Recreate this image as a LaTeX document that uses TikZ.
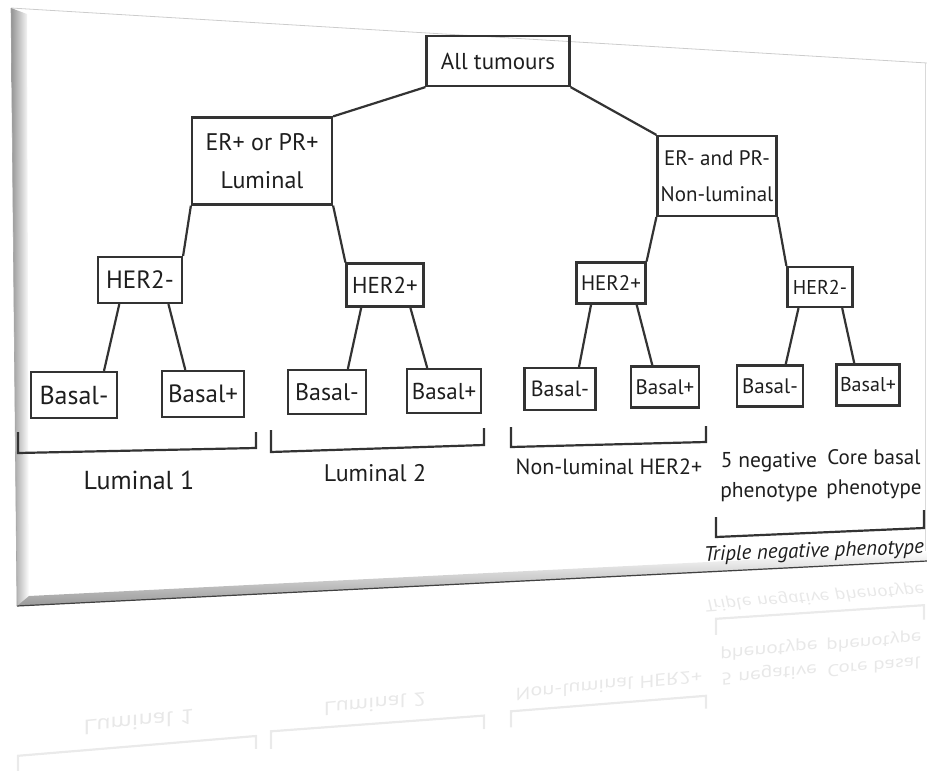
\documentclass[tikz,border=0pt]{standalone}
\usepackage{fontspec}
\setmainfont{PT Sans}
\usetikzlibrary{calc}
\definecolor{lc}{HTML}{333333}
\definecolor{tc}{HTML}{1E1E1E}
\tikzset{
  box/.style n args={4}{draw=lc, line width=2.2pt, minimum width=#1, minimum height=#2,
    inner sep=0pt, align=center, text=tc, font=\fontsize{#3}{#4}\selectfont},
  conn/.style={draw=lc, line width=2.2pt},
  brk/.style={draw=lc, line width=2.2pt},
  lab/.style 2 args={inner sep=0pt, align=center, text=tc, font=\fontsize{#1}{#2}\selectfont}
}
\newcommand\lowerpart{%
  \draw[brk] (18,432) -- (18,453) -- (256,448) -- (256,432);
  \draw[brk] (271,430) -- (271,452) -- (484,445) -- (484,428);
  \draw[brk] (511,427) -- (511,447) -- (706,442) -- (706,426);
  \draw[brk] (716,517) -- (716,537) -- (924,528) -- (924,510);
  \node[lab={26}{30}] (l1) at (139,480) {Luminal 1};
  \node[lab={24}{28}] (l2) at (375,473) {Luminal 2};
  \node[lab={22}{26}] (nl) at (609,467) {Non-luminal HER2+};
  \node[lab={21.5}{30}] (fn) at (769,477) {5 negative\\phenotype};
  \node[lab={21}{30}] (cb) at (874,474) {Core basal\\phenotype};
  \node[lab={21}{26}, anchor=west, rotate=2, font=\fontsize{21}{26}\selectfont\itshape] (tn) at (704,556) {Triple negative phenotype};
}
\begin{document}
\begin{tikzpicture}[x=1pt,y=-1pt]
\useasboundingbox (0,0) rectangle (927,771);
% panel frame
\draw[gray!40, line width=0.8pt] (11,8) -- (927,63);
\draw[gray!30, line width=0.6pt] (925,63) -- (925,561);
\shade[left color=gray!85, right color=white] (11,8) -- (27,14) -- (29,597) -- (17,606) -- cycle;
\shade[top color=white, bottom color=gray!80] (17,606) -- (29,596) -- (927,551) -- (927,562) -- cycle;
\draw[gray!50!black, line width=1.2pt] (17,606) -- (927,561);
\draw[gray!70, line width=0.6pt] (11,8) -- (17,606);
% reflection
\begin{scope}[cm={1,0.1,0,-0.8,(0pt,-1120pt)}, transform shape, opacity=0.1, name prefix=r-]
  \lowerpart
\end{scope}
% nodes
\node[box={143pt}{50pt}{23}{26}] (all) at (498,61) {All tumours};
\node[box={140pt}{87pt}{24}{38}] (erp) at (262,161) {ER+ or PR+\\Luminal};
\node[box={119pt}{80pt}{21}{36}] (ern) at (717,176) {ER- and PR-\\Non-luminal};
\node[box={84pt}{46pt}{25}{28}] (h1) at (140,280) {HER2-};
\node[box={77pt}{43pt}{23}{26}] (h2) at (385,285) {HER2+};
\node[box={69pt}{41pt}{21}{24}] (h3) at (611,283) {HER2+};
\node[box={65pt}{40pt}{20}{23}] (h4) at (820,287) {HER2-};
\node[box={86pt}{46pt}{26}{29}] (b1) at (74,395) {Basal-};
\node[box={82pt}{46pt}{25}{28}] (b2) at (203,394) {Basal+};
\node[box={78pt}{44pt}{24}{27}] (b3) at (327,392) {Basal-};
\node[box={74pt}{44pt}{23}{26}] (b4) at (444,391) {Basal+};
\node[box={71pt}{42pt}{22}{25}] (b5) at (560,389) {Basal-};
\node[box={68pt}{41pt}{21}{24}] (b6) at (665,387) {Basal+};
\node[box={66pt}{41pt}{21}{24}] (b7) at (770,386) {Basal-};
\node[box={63pt}{41pt}{20}{23}] (b8) at (868,385) {Basal+};
% connectors
\draw[conn] (all.south west) -- (erp.north east);
\draw[conn] (all.south east) -- (ern.north west);
\draw[conn] (erp.south west) -- (h1.north east);
\draw[conn] (erp.south east) -- (h2.north west);
\draw[conn] (ern.south west) -- (h3.north east);
\draw[conn] (ern.south east) -- (h4.north west);
\draw[conn] ($(h1.south west)!0.26!(h1.south east)$) -- ($(b1.north west)!0.84!(b1.north east)$);
\draw[conn] ($(h1.south west)!0.83!(h1.south east)$) -- ($(b2.north west)!0.29!(b2.north east)$);
\draw[conn] ($(h2.south west)!0.2!(h2.south east)$) -- ($(b3.north west)!0.76!(b3.north east)$);
\draw[conn] ($(h2.south west)!0.82!(h2.south east)$) -- ($(b4.north west)!0.28!(b4.north east)$);
\draw[conn] ($(h3.south west)!0.22!(h3.south east)$) -- ($(b5.north west)!0.76!(b5.north east)$);
\draw[conn] ($(h3.south west)!0.86!(h3.south east)$) -- ($(b6.north west)!0.32!(b6.north east)$);
\draw[conn] ($(h4.south west)!0.18!(h4.south east)$) -- ($(b7.north west)!0.73!(b7.north east)$);
\draw[conn] ($(h4.south west)!0.83!(h4.south east)$) -- ($(b8.north west)!0.29!(b8.north east)$);
\lowerpart
\end{tikzpicture}
\end{document}
